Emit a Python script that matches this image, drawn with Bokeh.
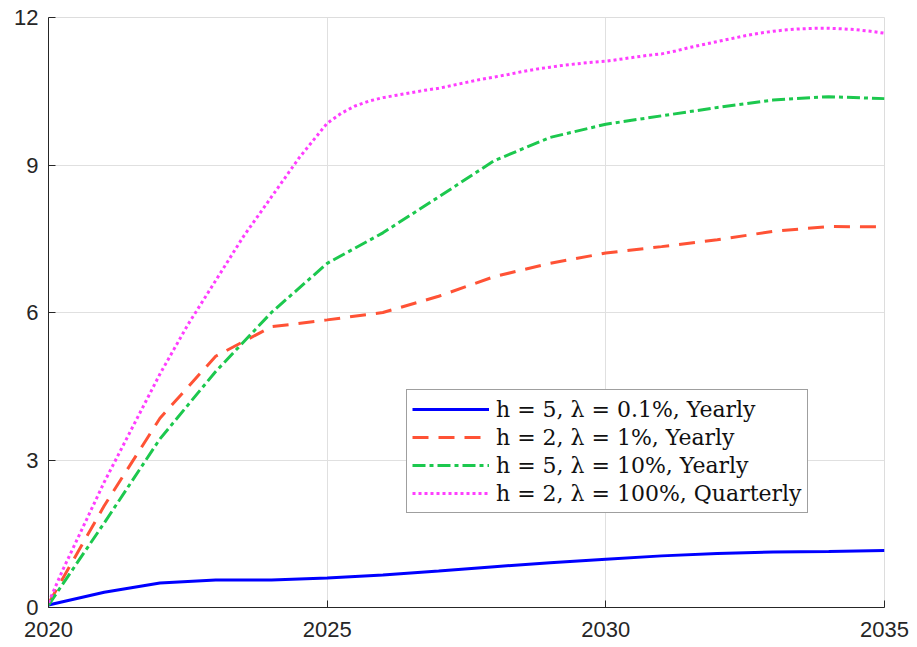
from bokeh.plotting import figure
from bokeh.models import Range1d, Legend, LegendItem, FixedTicker
from bokeh.embed import file_html
from bokeh.resources import INLINE

years = [2020, 2021, 2022, 2023, 2024, 2025, 2026, 2027, 2028, 2029, 2030, 2031, 2032, 2033, 2034, 2035]

blue_vals = [0.05, 0.31, 0.50, 0.56, 0.56, 0.60, 0.66, 0.74, 0.83, 0.91, 0.98, 1.05, 1.10, 1.13, 1.14, 1.16]
red_vals = [0.08, 2.07, 3.85, 5.11, 5.71, 5.85, 6.00, 6.33, 6.73, 7.00, 7.21, 7.34, 7.48, 7.65, 7.75, 7.74]
green_vals = [0.05, 1.72, 3.43, 4.80, 6.00, 7.00, 7.62, 8.35, 9.09, 9.56, 9.83, 10.00, 10.17, 10.32, 10.39, 10.35]

quarters = [2020.00, 2020.25, 2020.50, 2020.75, 2021.00, 2021.25, 2021.50, 2021.75,
            2022.00, 2022.25, 2022.50, 2022.75, 2023.00, 2023.25, 2023.50, 2023.75,
            2024.00, 2024.25, 2024.50, 2024.75, 2025.00, 2025.25, 2025.50, 2025.75,
            2026.00, 2026.25, 2026.50, 2026.75, 2027.00, 2027.25, 2027.50, 2027.75,
            2028.00, 2028.25, 2028.50, 2028.75, 2029.00, 2029.25, 2029.50, 2029.75,
            2030.00, 2030.25, 2030.50, 2030.75, 2031.00, 2031.25, 2031.50, 2031.75,
            2032.00, 2032.25, 2032.50, 2032.75, 2033.00, 2033.25, 2033.50, 2033.75,
            2034.00, 2034.25, 2034.50, 2034.75, 2035.00]
magenta_vals = [0.10, 0.75, 1.35, 1.95, 2.55, 3.10, 3.65, 4.20,
                4.75, 5.25, 5.75, 6.20, 6.65, 7.10, 7.55, 7.95,
                8.35, 8.75, 9.15, 9.50, 9.85, 10.05, 10.20, 10.30,
                10.37, 10.42, 10.47, 10.52, 10.56, 10.62, 10.68, 10.74,
                10.79, 10.84, 10.90, 10.95, 10.99, 11.03, 11.06, 11.09,
                11.11, 11.15, 11.19, 11.23, 11.26, 11.32, 11.39, 11.45,
                11.51, 11.57, 11.63, 11.68, 11.72, 11.75, 11.77, 11.78,
                11.78, 11.77, 11.75, 11.72, 11.68]

labels = ["h = 5, λ = 0.1%, Yearly",
          "h = 2, λ = 1%, Yearly",
          "h = 5, λ = 10%, Yearly",
          "h = 2, λ = 100%, Quarterly"]

x_ticks = [2020, 2025, 2030, 2035]
y_ticks = [0, 3, 6, 9, 12]

p = figure(width=917, height=647, output_backend="svg", toolbar_location=None,
           x_range=Range1d(2020, 2035), y_range=Range1d(0, 12),
           min_border_left=48, min_border_right=33, min_border_top=17, min_border_bottom=40)

r1 = p.line(years, blue_vals, line_color="#0000FF", line_width=3)
r2 = p.line(years, red_vals, line_color="#FF5235", line_width=3, line_dash="16 10")
r3 = p.line(years, green_vals, line_color="#1CC84E", line_width=3, line_dash="13 4 4 4")
r4 = p.line(quarters, magenta_vals, line_color="#FF3DFF", line_width=3, line_dash="3 3")

p.xaxis.ticker = FixedTicker(ticks=x_ticks)
p.yaxis.ticker = FixedTicker(ticks=y_ticks)

font = "Liberation Sans"
for ax in (p.xaxis, p.yaxis):
    ax.major_label_text_font = font
    ax.major_label_text_font_size = "22px"
    ax.major_label_text_color = "#262626"
    ax.axis_line_color = "#262626"
    ax.axis_line_width = 1
    ax.major_tick_in = 7
    ax.major_tick_out = 0
    ax.major_tick_line_color = "#262626"
    ax.minor_tick_line_color = None
p.xaxis.major_label_standoff = 14
p.yaxis.major_label_standoff = 10

p.xgrid.grid_line_color = "#E0E0E0"
p.ygrid.grid_line_color = "#E0E0E0"
p.outline_line_color = "#DDDDDD"
p.outline_line_width = 1

legend = Legend(items=[LegendItem(label=labels[0], renderers=[r1]),
                       LegendItem(label=labels[1], renderers=[r2]),
                       LegendItem(label=labels[2], renderers=[r3]),
                       LegendItem(label=labels[3], renderers=[r4])],
                location=(358, 94))
legend.label_text_font = "DejaVu Serif"
legend.label_text_font_size = "22px"
legend.label_text_color = "#111111"
legend.glyph_width = 77
legend.glyph_height = 28
legend.label_height = 28
legend.spacing = 0
legend.padding = 5
legend.margin = 0
legend.label_standoff = 7
legend.border_line_color = "#404040"
legend.border_line_width = 1
legend.background_fill_alpha = 1.0
p.add_layout(legend, "center")

open("out.html", "w").write(file_html(p, INLINE))
